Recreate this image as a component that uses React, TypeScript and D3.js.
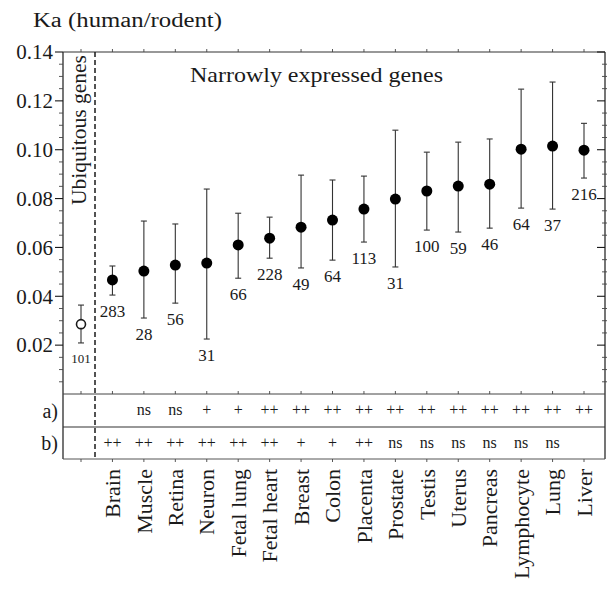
import React from "react";
import * as d3 from "d3";

const categories = ["Ubiquitous", "Brain", "Muscle", "Retina", "Neuron", "Fetal lung", "Fetal heart", "Breast", "Colon", "Placenta", "Prostate", "Testis", "Uterus", "Pancreas", "Lymphocyte", "Lung", "Liver"];
const means = [0.0286, 0.0467, 0.0503, 0.0528, 0.0536, 0.061, 0.0638, 0.0683, 0.0712, 0.0757, 0.0798, 0.0831, 0.0851, 0.0859, 0.1002, 0.1015, 0.0998];
const upper = [0.0364, 0.0524, 0.0708, 0.0696, 0.0839, 0.074, 0.0724, 0.0896, 0.0876, 0.0892, 0.108, 0.099, 0.1031, 0.1044, 0.1248, 0.1277, 0.1108];
const lower = [0.0209, 0.0405, 0.0311, 0.0372, 0.0225, 0.0474, 0.0556, 0.0516, 0.0548, 0.0622, 0.052, 0.0671, 0.0663, 0.0679, 0.0761, 0.0757, 0.0884];
const counts = ["101", "283", "28", "56", "31", "66", "228", "49", "64", "113", "31", "100", "59", "46", "64", "37", "216"];
const rowA = ["", "", "ns", "ns", "+", "+", "++", "++", "++", "++", "++", "++", "++", "++", "++", "++", "++"];
const rowB = ["", "++", "++", "++", "++", "++", "++", "+", "+", "++", "ns", "ns", "ns", "ns", "ns", "ns", ""];
const yTicks = [0.02, 0.04, 0.06, 0.08, 0.1, 0.12, 0.14];

const FONT = "Liberation Serif, Times New Roman, Times, serif";
const INK = "#1a1a1a";

export default function App() {
  const W = 616, H = 589;
  const left = 63, right = 605, top = 52;
  const y0 = 394, rowMid = 427, bottom = 459, dashX = 95;

  const x = d3.scalePoint<string>().domain(categories).range([81, 584]);
  const y = d3.scaleLinear().domain([0, 0.14]).range([y0, top]);
  const minor = d3.range(0.005, 0.14, 0.005).filter(v => Math.abs(v / 0.02 - Math.round(v / 0.02)) > 1e-6);
  const fmt = d3.format(".2f");
  const ts = { fontFamily: FONT } as React.CSSProperties;

  return (
    <svg width={W} height={H} style={{ position: "absolute", left: 0, top: 0, background: "#fff", fontFamily: FONT }}>
      <rect x={0} y={0} width={W} height={H} fill="#fff" />
      {/* title */}
      <text x={33} y={27} fontSize={20} fill={INK} style={ts} textLength={189} lengthAdjust="spacingAndGlyphs">Ka (human/rodent)</text>

      {/* frame */}
      <line x1={left} x2={left} y1={top} y2={bottom} stroke={INK} strokeWidth={1.2} />
      <line x1={right} x2={right} y1={top} y2={bottom} stroke={INK} strokeWidth={1.2} />
      <line x1={left} x2={right} y1={top} y2={top} stroke="#333" strokeWidth={1.1} />
      <line x1={left} x2={right} y1={y0} y2={y0} stroke="#444" strokeWidth={1} />
      <line x1={left} x2={right} y1={rowMid} y2={rowMid} stroke="#333" strokeWidth={1.1} />
      <line x1={left} x2={right} y1={bottom} y2={bottom} stroke="#555" strokeWidth={1} />
      <line x1={dashX} x2={dashX} y1={top} y2={bottom} stroke={INK} strokeWidth={1.5} strokeDasharray="5,3" />

      {/* y ticks */}
      {yTicks.map(t => (
        <g key={"yt" + t}>
          <line x1={left - 8} x2={left} y1={y(t)} y2={y(t)} stroke={INK} strokeWidth={1.1} />
          <line x1={right - 8} x2={right} y1={y(t)} y2={y(t)} stroke={INK} strokeWidth={1.1} />
          <text x={53} y={y(t)} dy="0.35em" textAnchor="end" fontSize={21} fill={INK} style={ts}>{fmt(t)}</text>
        </g>
      ))}
      {minor.map(t => (
        <g key={"ym" + t}>
          <line x1={left - 4} x2={left} y1={y(t)} y2={y(t)} stroke="#444" strokeWidth={0.9} />
          <line x1={right - 3} x2={right + 2} y1={y(t)} y2={y(t)} stroke="#444" strokeWidth={0.9} />
        </g>
      ))}

      {/* category ticks on horizontal lines */}
      {categories.map(c => (
        <g key={"ct" + c}>
          <line x1={x(c)} x2={x(c)} y1={top - 3} y2={top} stroke="#444" strokeWidth={0.9} />
          <line x1={x(c)} x2={x(c)} y1={y0 - 3} y2={y0} stroke="#444" strokeWidth={0.9} />
          <line x1={x(c)} x2={x(c)} y1={bottom} y2={bottom + 3} stroke="#444" strokeWidth={0.9} />
        </g>
      ))}

      {/* annotations */}
      <text x={190} y={82} fontSize={22} fill={INK} style={ts} textLength={253} lengthAdjust="spacingAndGlyphs">Narrowly expressed genes</text>
      <text transform={`translate(86,205) rotate(-90)`} fontSize={22} fill={INK} style={ts} textLength={150} lengthAdjust="spacingAndGlyphs">Ubiquitous genes</text>

      {/* error bars and points */}
      {categories.map((c, i) => {
        const cx = x(c) as number;
        const ub = i === 0;
        return (
          <g key={"pt" + c}>
            <line x1={cx} x2={cx} y1={y(upper[i])} y2={y(lower[i])} stroke="#333" strokeWidth={1.1} />
            <line x1={cx - 3} x2={cx + 3} y1={y(upper[i])} y2={y(upper[i])} stroke="#333" strokeWidth={1.1} />
            <line x1={cx - 3} x2={cx + 3} y1={y(lower[i])} y2={y(lower[i])} stroke="#333" strokeWidth={1.1} />
            {ub ? (
              <circle cx={cx} cy={y(means[i])} r={4.5} fill="#fff" stroke={INK} strokeWidth={1.6} />
            ) : (
              <circle cx={cx} cy={y(means[i])} r={5.5} fill="#000" />
            )}
            <text x={cx} y={y(lower[i]) + (ub ? 20 : 22)} textAnchor="middle" fontSize={ub ? 13 : 17} fill={INK} style={ts}>{counts[i]}</text>
          </g>
        );
      })}

      {/* significance rows */}
      <text x={58} y={(y0 + rowMid) / 2} dy="0.35em" textAnchor="end" fontSize={20} fill={INK} style={ts}>a)</text>
      <text x={58} y={(rowMid + bottom) / 2} dy="0.35em" textAnchor="end" fontSize={20} fill={INK} style={ts}>b)</text>
      {categories.map((c, i) => (
        <g key={"sig" + c}>
          <text x={x(c)} y={(y0 + rowMid) / 2} dy="0.3em" textAnchor="middle" fontSize={16} fill={INK} style={ts}>{rowA[i]}</text>
          <text x={x(c)} y={(rowMid + bottom) / 2} dy="0.3em" textAnchor="middle" fontSize={16} fill={INK} style={ts}>{rowB[i]}</text>
        </g>
      ))}

      {/* category labels */}
      {categories.slice(1).map(c => (
        <text key={"cl" + c} transform={`translate(${x(c)},469) rotate(-90)`} dy="0.35em" textAnchor="end" fontSize={22} fill={INK} style={ts}>{c}</text>
      ))}
    </svg>
  );
}
